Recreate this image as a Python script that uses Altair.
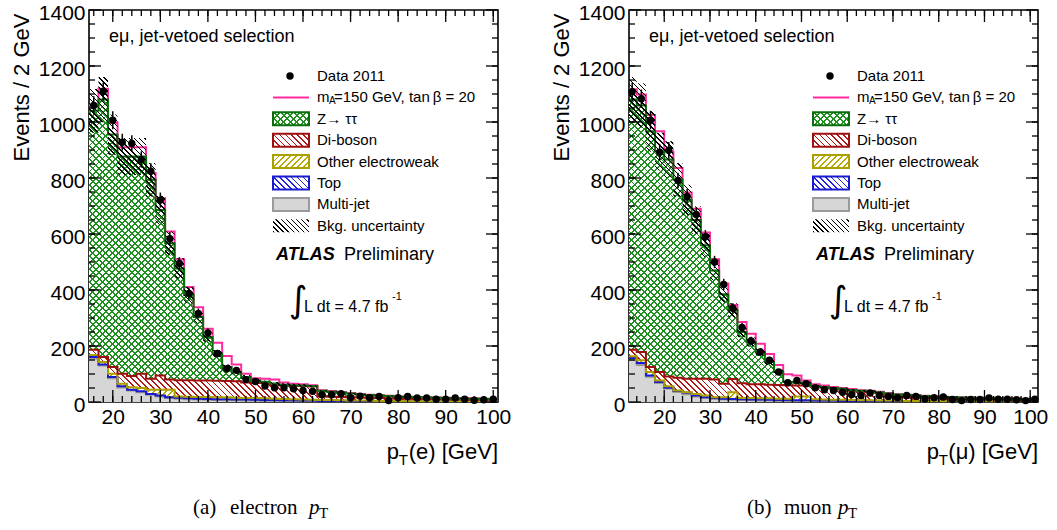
import math
import altair as alt
import pandas as pd

FONT = "Liberation Sans"
SERIF = "Liberation Serif"

# ---------------- electron pT panel: 2 GeV bins from 15 to 101 GeV ----------------
E_CENTERS = list(range(16, 101, 2))
E_DATA = [1059, 1109, 1006, 928, 923, 866, 824, 721, 583, 495,
          388, 316, 247, 173, 119, 113, 80, 73, 57, 51,
          51, 47, 41, 38, 26, 26, 30, 15, 21, 15,
          20, 5, 15, 20, 14, 14, 10, 10, 14, 10,
          6, 8, 10]
E_ERR = [33, 33, 32, 30, 30, 29, 29, 27, 24, 22,
         20, 18, 16, 13, 11, 11, 9, 9, 8, 7,
         7, 7, 6, 6, 5, 5, 5, 4, 5, 4,
         4, 2, 4, 4, 4, 4, 3, 3, 4, 3,
         2, 3, 3]
# stacked upper edges (cumulative)
E_MULTIJET = [155, 130, 85, 52, 41, 35, 26, 20, 14, 12,
              10, 9, 8, 7, 6, 6, 5, 5, 4, 4,
              3, 3, 3, 3, 2, 2, 2, 2, 2, 1,
              1, 1, 1, 1, 1, 1, 1, 1, 1, 1,
              1, 1, 1]
E_TOP = [161, 134, 89, 56, 44, 38, 29, 23, 17, 15,
         13, 12, 11, 10, 10, 9, 9, 8, 7, 7,
         6, 6, 5, 5, 4, 4, 4, 3, 3, 3,
         3, 2, 2, 2, 2, 2, 2, 2, 2, 2,
         1, 1, 1]
E_OTHEREW = [168, 143, 101, 65, 53, 50, 44, 44, 44, 20,
             19, 18, 18, 17, 17, 15, 14, 14, 13, 12,
             11, 10, 9, 8, 7, 7, 6, 5, 5, 5,
             4, 4, 4, 3, 3, 3, 3, 3, 2, 2,
             2, 2, 2]
E_DIBOSON = [187, 161, 125, 101, 93, 101, 83, 95, 80, 78,
             78, 77, 77, 76, 75, 74, 70, 68, 68, 60,
             59, 58, 57, 55, 20, 19, 18, 17, 16, 15,
             14, 13, 12, 12, 11, 11, 10, 10, 9, 9,
             8, 8, 8]
E_ZTAUTAU = [1040, 1080, 955, 877, 877, 877, 794, 686, 567, 477,
             382, 304, 232, 173, 125, 107, 89, 77, 72, 66,
             62, 60, 59, 57, 40, 37, 34, 30, 27, 25,
             23, 21, 19, 18, 17, 16, 15, 14, 13, 12,
             12, 11, 11]
E_SIGNAL = [20, 39, 42, 33, 33, 33, 24, 42, 42, 33,
            29, 34, 30, 39, 39, 27, 12, 8, 11, 14,
            8, 5, 4, 3, 2, 2, 2, 2, 2, 1,
            1, 1, 1, 1, 1, 1, 1, 1, 1, 1,
            1, 1, 1]
E_UNC = [78, 81, 72, 66, 66, 66, 60, 51, 43, 36,
         29, 23, 17, 13, 9, 8, 7, 6, 5, 5,
         5, 5, 4, 4, 3, 3, 3, 2, 2, 2,
         2, 2, 1, 1, 1, 1, 1, 1, 1, 1,
         1, 1, 1]

# ---------------- muon pT panel: 2 GeV bins from 12 GeV ----------------
M_CENTERS = list(range(13, 102, 2))
M_DATA = [1108, 1083, 1006, 892, 899, 791, 734, 670, 590, 500,
          420, 335, 266, 218, 179, 149, 107, 69, 77, 65,
          51, 44, 41, 35, 27, 23, 32, 23, 20, 15,
          23, 20, 11, 15, 18, 9, 5, 9, 9, 14,
          10, 10, 8, 5, 10]
M_ERR = [33, 33, 32, 30, 30, 28, 27, 26, 24, 22,
         20, 18, 16, 15, 13, 12, 10, 8, 9, 8,
         7, 7, 6, 6, 5, 5, 6, 5, 4, 4,
         5, 4, 3, 4, 4, 3, 2, 3, 3, 4,
         3, 3, 3, 2, 3]
M_MULTIJET = [150, 132, 90, 68, 48, 36, 28, 20, 14, 11,
              9, 8, 7, 6, 5, 5, 4, 4, 3, 3,
              3, 3, 2, 2, 2, 2, 2, 2, 1, 1,
              1, 1, 1, 1, 1, 1, 1, 1, 1, 1,
              1, 1, 1, 1, 1]
M_TOP = [157, 139, 95, 71, 51, 39, 33, 23, 17, 14,
         12, 11, 10, 9, 9, 8, 7, 7, 6, 6,
         5, 5, 5, 4, 4, 4, 3, 3, 3, 3,
         2, 2, 2, 2, 2, 2, 2, 2, 2, 2,
         1, 1, 1, 1, 1]
M_OTHEREW = [163, 149, 107, 77, 56, 41, 35, 29, 23, 17,
             17, 35, 14, 14, 13, 13, 12, 12, 20, 20,
             10, 9, 8, 8, 7, 6, 6, 5, 5, 5,
             4, 4, 4, 3, 3, 3, 3, 3, 3, 2,
             2, 2, 2, 2, 2]
M_DIBOSON = [187, 179, 125, 107, 91, 87, 83, 83, 83, 80,
             65, 82, 67, 63, 63, 62, 61, 60, 59, 59,
             55, 52, 48, 45, 40, 37, 35, 33, 20, 18,
             16, 15, 14, 13, 12, 12, 11, 11, 10, 10,
             9, 9, 9, 8, 8]
M_ZTAUTAU = [1080, 1059, 967, 895, 866, 794, 722, 650, 560, 470,
             385, 328, 250, 214, 178, 143, 107, 71, 70, 68,
             57, 54, 50, 47, 43, 40, 38, 35, 30, 27,
             25, 23, 21, 19, 18, 17, 16, 15, 14, 13,
             13, 12, 12, 11, 11]
M_SIGNAL = [37, 39, 58, 72, 29, 42, 26, 40, 45, 40,
            38, 18, 36, 30, 30, 28, 25, 28, 25, 9,
            6, 5, 4, 3, 3, 2, 2, 2, 2, 1,
            1, 1, 1, 1, 1, 1, 1, 1, 1, 1,
            1, 1, 1, 1, 1]
M_UNC = [81, 79, 73, 67, 65, 60, 54, 49, 42, 35,
         29, 25, 19, 16, 13, 11, 8, 6, 5, 5,
         4, 4, 4, 4, 3, 3, 3, 3, 2, 2,
         2, 2, 2, 1, 1, 1, 1, 1, 1, 1,
         1, 1, 1, 1, 1]

X_LABELS = [20, 30, 40, 50, 60, 70, 80, 90, 100]
Y_LABELS = [0, 200, 400, 600, 800, 1000, 1200, 1400]
Y_MINOR = list(range(50, 1400, 50))

LEGEND = ["Data 2011", None, "Z\u2192 \u03c4\u03c4", "Di-boson", "Other electroweak",
          "Top", "Multi-jet", "Bkg. uncertainty"]

# (hatch line colour, outline colour)
COL = {
    "mj": ("#d6d6d6", "#9a9a9a"),
    "tp": ("#2020e0", "#1a1ad0"),
    "ew": ("#b8aa00", "#aaa000"),
    "db": ("#b01818", "#9e1010"),
    "zt": ("#1f8f1f", "#0a6e0a"),
}
SIG_COLOR = "#ff2a9e"
CLEAR = "rgba(255,255,255,0)"

W, H = 409, 392


def hatch(color, bg, wb, hb, direction, spacing=4.2, lw=1.25):
    """Diagonal hatching as a striped linear gradient in bounding-box units."""
    r = hb / wb
    a = (1 + r) / (1 + r * r)
    length = (wb + hb) / math.sqrt(2)
    stops = [alt.GradientStop(color=bg, offset=0)]
    k = 0
    while True:
        o0 = k * spacing / length
        if o0 >= 1:
            break
        o1 = min((k * spacing + lw) / length, 1)
        stops += [alt.GradientStop(color=bg, offset=o0),
                  alt.GradientStop(color=color, offset=o0),
                  alt.GradientStop(color=color, offset=o1),
                  alt.GradientStop(color=bg, offset=o1)]
        k += 1
    if direction == "\\":
        return alt.LinearGradient(gradient="linear", stops=stops,
                                  x1=0, y1=1, x2=a, y2=1 - a * r)
    return alt.LinearGradient(gradient="linear", stops=stops,
                              x1=0, y1=0, x2=a, y2=a * r)


def one(s):
    return pd.DataFrame({"t": [s]})


def txt(s, x, y, size=15, align="left", baseline="middle", font=FONT,
        weight="normal", style="normal"):
    return alt.Chart(one(s)).mark_text(
        align=align, baseline=baseline, font=font, fontSize=size,
        fontWeight=weight, fontStyle=style, color="black"
    ).encode(x=alt.value(x), y=alt.value(y), text="t:N")


def panel(centers, xdom, data, err, mj, tp, ew, db, zt, sig, unc,
          x_minor, particle, cap_letter, cap_word, cap_x, cap_p):
    n = len(centers)
    rows = []
    for i in range(n + 1):
        j = min(i, n - 1)
        rows.append(dict(x=centers[0] - 1 + 2 * i, zero=0, mj=mj[j], tp=tp[j],
                         ew=ew[j], db=db[j], zt=zt[j], sg=zt[j] + sig[j],
                         uhi=zt[j] + unc[j], ulo=zt[j] - unc[j]))
    step = pd.DataFrame(rows)
    pts = pd.DataFrame(dict(x=centers, y=data,
                            lo=[d - e for d, e in zip(data, err)],
                            hi=[d + e for d, e in zip(data, err)]))

    xs = alt.Scale(domain=xdom, nice=False, zero=False)
    ys = alt.Scale(domain=[0, 1400], nice=False)
    xaxis = alt.Axis(values=X_LABELS, title=None, grid=False, ticks=False, domain=False,
                     labelFont=FONT, labelFontSize=21, labelColor="black",
                     labelPadding=4, labelFlush=False, labelOverlap=False, format="d")
    yaxis = alt.Axis(values=Y_LABELS, title="Events / 2 GeV", grid=False, ticks=False,
                     domain=False, labelFont=FONT, labelFontSize=21, labelColor="black",
                     labelPadding=4, labelFlush=False, labelOverlap=False, format="d",
                     labelOffset=3, titleFont=FONT, titleFontSize=22,
                     titleFontWeight="normal", titleColor="black", titleAngle=270,
                     titleAlign="right", titleBaseline="middle", titleX=-68, titleY=3)
    X = alt.X("x:Q", scale=xs, axis=xaxis)

    def Y(f):
        return alt.Y(f + ":Q", scale=ys, axis=yaxis)

    # pixel size of each area's bounding box, for the hatch spacing
    wb = (2 * n) / (xdom[1] - xdom[0]) * W

    def hb(top, bot):
        return max(4.0, (step[top].max() - step[bot].min()) / 1400 * H)

    base = alt.Chart(step)
    layers = []

    def area(top, bot, fill):
        return base.mark_area(interpolate="step-after", fill=fill, clip=True).encode(
            x=X, y=Y(top), y2=alt.Y2(bot))

    layers.append(area("mj", "zero", COL["mj"][0]))
    layers.append(area("tp", "mj", hatch(COL["tp"][0], "white", wb, hb("tp", "mj"), "\\")))
    layers.append(area("ew", "tp", hatch(COL["ew"][0], "white", wb, hb("ew", "tp"), "/")))
    layers.append(area("db", "ew", hatch(COL["db"][0], "white", wb, hb("db", "ew"), "\\")))
    h_zt = hb("zt", "db")
    layers.append(area("zt", "db", hatch(COL["zt"][0], "white", wb, h_zt, "\\", 4.6, 1.3)))
    layers.append(area("zt", "db", hatch(COL["zt"][0], CLEAR, wb, h_zt, "/", 4.6, 1.3)))
    for key in ["mj", "tp", "ew", "db"]:
        layers.append(base.mark_line(interpolate="step-after", color=COL[key][1],
                                     strokeWidth=2, clip=True).encode(x=X, y=Y(key)))
    layers.append(base.mark_line(interpolate="step-after", color=SIG_COLOR,
                                 strokeWidth=2, clip=True).encode(x=X, y=Y("sg")))
    layers.append(base.mark_line(interpolate="step-after", color=COL["zt"][1],
                                 strokeWidth=2, clip=True).encode(x=X, y=Y("zt")))
    layers.append(area("uhi", "ulo", hatch("black", CLEAR, wb, hb("uhi", "ulo"),
                                           "\\", 3.6, 1.1)))
    pb = alt.Chart(pts)
    layers.append(pb.mark_rule(color="black", strokeWidth=1.5).encode(
        x=X, y=Y("lo"), y2=alt.Y2("hi")))
    layers.append(pb.mark_circle(size=55, color="black", opacity=1).encode(x=X, y=Y("y")))

    # inward ticks on all four sides
    for vals, ln in [(X_LABELS, 12), (x_minor, 6)]:
        d = alt.Chart(pd.DataFrame({"x": vals}))
        layers.append(d.mark_rule(color="black", strokeWidth=1.3).encode(
            x=X, y=alt.value(H), y2=alt.value(H - ln)))
        layers.append(d.mark_rule(color="black", strokeWidth=1.3).encode(
            x=X, y=alt.value(0), y2=alt.value(ln)))
    for vals, ln in [(Y_LABELS, 12), (Y_MINOR, 6)]:
        d = alt.Chart(pd.DataFrame({"v": vals}))
        layers.append(d.mark_rule(color="black", strokeWidth=1.3).encode(
            y=Y("v"), x=alt.value(0), x2=alt.value(ln)))
        layers.append(d.mark_rule(color="black", strokeWidth=1.3).encode(
            y=Y("v"), x=alt.value(W), x2=alt.value(W - ln)))

    # labels inside the frame
    layers.append(txt("e\u03bc, jet-vetoed selection", 20, 27, size=18))
    lx_sym0, lx_sym1, lx_txt = 184, 220, 228
    bw, bh = lx_sym1 - lx_sym0, 13
    ly = [66 + 21.4 * i for i in range(8)]
    layers.append(alt.Chart(one("d")).mark_circle(size=55, color="black", opacity=1).encode(
        x=alt.value(201), y=alt.value(ly[0])))
    layers.append(alt.Chart(one("s")).mark_rule(color=SIG_COLOR, strokeWidth=2).encode(
        x=alt.value(lx_sym0), x2=alt.value(lx_sym1), y=alt.value(ly[1])))

    def box(i, fill, stroke=None):
        kw = dict(fill=fill)
        if stroke is not None:
            kw.update(stroke=stroke, strokeWidth=2)
        return alt.Chart(one(str(i))).mark_rect(**kw).encode(
            x=alt.value(lx_sym0), x2=alt.value(lx_sym1),
            y=alt.value(ly[i] - bh / 2), y2=alt.value(ly[i] + bh / 2))

    layers.append(box(2, hatch(COL["zt"][0], "white", bw, bh, "\\", 4.6, 1.3)))
    layers.append(box(2, hatch(COL["zt"][0], CLEAR, bw, bh, "/", 4.6, 1.3), COL["zt"][1]))
    layers.append(box(3, hatch(COL["db"][0], "white", bw, bh, "\\"), COL["db"][1]))
    layers.append(box(4, hatch(COL["ew"][0], "white", bw, bh, "/"), COL["ew"][1]))
    layers.append(box(5, hatch(COL["tp"][0], "white", bw, bh, "\\"), COL["tp"][1]))
    layers.append(box(6, COL["mj"][0], COL["mj"][1]))
    layers.append(box(7, hatch("black", CLEAR, bw, bh, "\\", 3.6, 1.1)))
    for i, s in enumerate(LEGEND):
        if s is not None:
            layers.append(txt(s, lx_txt, ly[i]))
    layers.append(txt("m", lx_txt, ly[1]))
    layers.append(txt("A", lx_txt + 12, ly[1] + 4, size=10))
    layers.append(txt("=150 GeV, tan\u2009\u03b2 = 20", lx_txt + 17, ly[1]))

    layers.append(txt("ATLAS", 187, 245, size=18, weight="bold", style="italic"))
    layers.append(txt("Preliminary", 255, 245, size=18))
    layers.append(txt("\u222b", 209, 291, size=36, align="center", font="DejaVu Sans"))
    layers.append(txt("L dt = 4.7 fb", 215, 297, size=16))
    layers.append(txt("-1", 303, 287, size=11))

    # x-axis title with subscript
    layers.append(txt("(" + particle + ") [GeV]", W, 449, size=22, align="right",
                      baseline="alphabetic"))
    layers.append(txt("T", W - 90, 455, size=15, align="right", baseline="alphabetic"))
    layers.append(txt("p", W - 99, 449, size=22, align="right", baseline="alphabetic"))

    # sub-figure caption
    layers.append(txt(cap_letter, cap_x, 504, size=21, font=SERIF, baseline="alphabetic"))
    layers.append(txt(cap_word, cap_x + 37, 504, size=21, font=SERIF, baseline="alphabetic"))
    layers.append(txt("p", cap_x + cap_p, 504, size=21, font=SERIF, style="italic",
                      baseline="alphabetic"))
    layers.append(txt("T", cap_x + cap_p + 10, 508, size=15, font=SERIF,
                      baseline="alphabetic"))

    return alt.layer(*layers).properties(width=W, height=H)


left = panel(E_CENTERS, [15, 101], E_DATA, E_ERR, E_MULTIJET, E_TOP, E_OTHEREW,
             E_DIBOSON, E_ZTAUTAU, E_SIGNAL, E_UNC, list(range(16, 101, 2)),
             "e", "(a)", "electron", 104, 116)
right = panel(M_CENTERS, [12.3, 101.7], M_DATA, M_ERR, M_MULTIJET, M_TOP, M_OTHEREW,
              M_DIBOSON, M_ZTAUTAU, M_SIGNAL, M_UNC, list(range(14, 101, 2)),
              "\u03bc", "(b)", "muon", 118, 91)

chart = alt.HConcatChart(hconcat=[left, right], spacing=131, bounds="flush").properties(
    padding={"left": 9, "top": 1, "right": 5, "bottom": 5},
    background="white",
).configure_view(stroke="black", strokeWidth=1.6)

chart.save("out.html", embed_options={"renderer": "svg", "actions": False})
